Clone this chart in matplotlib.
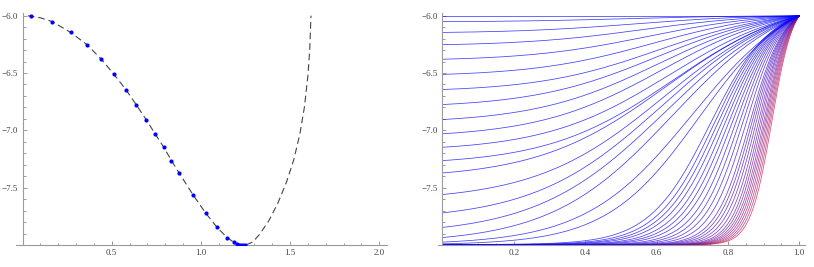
import numpy as np
import matplotlib
matplotlib.use("Agg")
import matplotlib.pyplot as plt
from matplotlib.ticker import MultipleLocator, FixedLocator

# ---------------- data ----------------
# left panel: blue sample points
point_x = [0.046, 0.167, 0.270, 0.362, 0.442, 0.513, 0.579, 0.637, 0.693, 0.743,
           0.792, 0.835, 0.878, 0.955, 1.026, 1.091, 1.147, 1.186, 1.201, 1.216,
           1.227, 1.237, 1.246]
point_y = [-6.000, -6.052, -6.146, -6.253, -6.380, -6.512, -6.644, -6.775, -6.906, -7.030,
           -7.148, -7.264, -7.372, -7.560, -7.720, -7.847, -7.935, -7.975, -7.990, -7.996,
           -7.999, -8.000, -8.000]

# left panel: dashed curve
curve_x = [0.030, 0.046, 0.100, 0.167, 0.270, 0.362, 0.442, 0.513, 0.579, 0.637, 0.693,
           0.743, 0.792, 0.835, 0.878, 0.955, 1.026, 1.091, 1.147, 1.186, 1.216, 1.250,
           1.290, 1.330, 1.380, 1.430, 1.480, 1.520, 1.555, 1.580, 1.600, 1.610, 1.617]
curve_y = [-6.001, -6.003, -6.018, -6.052, -6.146, -6.253, -6.380, -6.512, -6.644, -6.775, -6.906,
           -7.030, -7.148, -7.264, -7.372, -7.560, -7.720, -7.847, -7.935, -7.978, -7.996, -8.000,
           -7.975, -7.905, -7.790, -7.640, -7.450, -7.260, -7.030, -6.800, -6.520, -6.300, -6.000]

# right panel: family of profiles (start value at x=0, midpoint and width of the rise)
start_values = [-6.000, -6.052, -6.146, -6.253, -6.380, -6.512, -6.644, -6.775, -6.906, -7.030,
                -7.148, -7.264, -7.372, -7.560, -7.720, -7.847, -7.935, -7.975, -7.990,
                -7.996, -7.997, -7.998, -7.998, -7.999, -7.999, -7.999, -8.000, -8.000, -8.000,
                -8.000, -8.000, -8.000, -8.000, -8.000, -8.000, -8.000, -8.000, -8.000, -8.000,
                -8.000, -8.000, -8.000, -8.000, -8.000]
mid_x = [0.50, 0.52, 0.54, 0.56, 0.575, 0.59, 0.605, 0.60, 0.605, 0.615,
         0.635, 0.645, 0.625, 0.62, 0.615, 0.625, 0.645, 0.70, 0.72,
         0.75, 0.76, 0.77, 0.78, 0.79, 0.80, 0.81, 0.82, 0.83, 0.84,
         0.85, 0.86, 0.866, 0.872, 0.878, 0.884, 0.889, 0.894, 0.899, 0.903,
         0.907, 0.911, 0.915, 0.919, 0.923]
widths = [0.17, 0.17, 0.17, 0.17, 0.17, 0.17, 0.17, 0.175, 0.175, 0.175,
          0.175, 0.175, 0.18, 0.18, 0.18, 0.18, 0.17, 0.15, 0.13,
          0.085, 0.080, 0.077, 0.074, 0.070, 0.067, 0.064, 0.060, 0.057, 0.054,
          0.051, 0.048, 0.046, 0.044, 0.042, 0.040, 0.038, 0.037, 0.036, 0.035,
          0.034, 0.033, 0.032, 0.031, 0.030]
end_value = -6.0

left_xticks = [0.5, 1.0, 1.5, 2.0]
left_yticks = [-6.0, -6.5, -7.0, -7.5]
right_xticks = [0.2, 0.4, 0.6, 0.8, 1.0]
right_yticks = [-6.0, -6.5, -7.0, -7.5]

# ---------------- figure ----------------
W, H = 814, 267
fig = plt.figure(figsize=(W / 100, H / 100), dpi=100)
plt.rcParams['font.family'] = ['Liberation Serif', 'DejaVu Serif']

axis_col = '#9a9a9a'
label_col = '#444444'


def style(ax, xticks, yticks, xminor, yminor):
    for s in ['top', 'right']:
        ax.spines[s].set_visible(False)
    ax.spines['left'].set_position(('data', 0))
    for s in ['left', 'bottom']:
        ax.spines[s].set_color(axis_col)
        ax.spines[s].set_linewidth(0.8)
    ax.xaxis.set_major_locator(FixedLocator(xticks))
    ax.yaxis.set_major_locator(FixedLocator(yticks))
    ax.xaxis.set_minor_locator(MultipleLocator(xminor))
    ax.yaxis.set_minor_locator(MultipleLocator(yminor))
    ax.tick_params(which='both', direction='in', color=axis_col, width=0.7,
                   labelsize=6.5, labelcolor=label_col)
    ax.tick_params(which='major', length=3.0, pad=3)
    ax.tick_params(which='minor', length=1.8)
    ax.xaxis.set_major_formatter(plt.FuncFormatter(lambda v, p: f"{v:.1f}"))
    ax.yaxis.set_major_formatter(plt.FuncFormatter(lambda v, p: f"{v:.1f}".replace('-', '\u2212')))


# left panel
y_top = -6.0 + (15.7 - 13.3) / 114.6
axL = fig.add_axes([16 / W, (H - 245) / H, (387 - 16) / W, (245 - 13.3) / H])
axL.set_xlim((16 - 22.5) / 178.4, (387 - 22.5) / 178.4)
axL.set_ylim(-8.0, y_top)
axL.plot(curve_x, curve_y, color='#444444', lw=0.8, linestyle=(0, (6, 3.5)))
axL.plot(point_x, point_y, 'o', color='#0000ff', ms=3.0, mec='none', zorder=3)
style(axL, left_xticks, left_yticks, 0.1, 0.1)

# right panel
axR = fig.add_axes([438 / W, (H - 245) / H, (805 - 438) / W, (245 - 13.3) / H])
axR.set_xlim((438 - 442.3) / 357.0, (805 - 442.3) / 357.0)
axR.set_ylim(-8.0, y_top)
xs = np.linspace(0, 1, 600)
n = len(start_values)
blue = np.array([0.0, 0.0, 1.0])
red = np.array([0.78, 0.08, 0.28])
for i, (y0, m, w) in enumerate(zip(start_values, mid_x, widths)):
    S = 1 / (1 + np.exp(-(xs - m) / w))
    S0 = 1 / (1 + np.exp(m / w))
    S1 = 1 / (1 + np.exp(-(1 - m) / w))
    f = (S - S0) / (S1 - S0)
    ys = y0 + (end_value - y0) * f
    t = (i / (n - 1)) ** 3.5
    col = (1 - t) * blue + t * red
    axR.plot(xs, ys, color=col, lw=0.55, alpha=0.75, solid_capstyle='butt',
             zorder=2 + (n - i) * 0.01)
style(axR, right_xticks, right_yticks, 0.05, 0.1)

fig.savefig('out.png', dpi=100)
